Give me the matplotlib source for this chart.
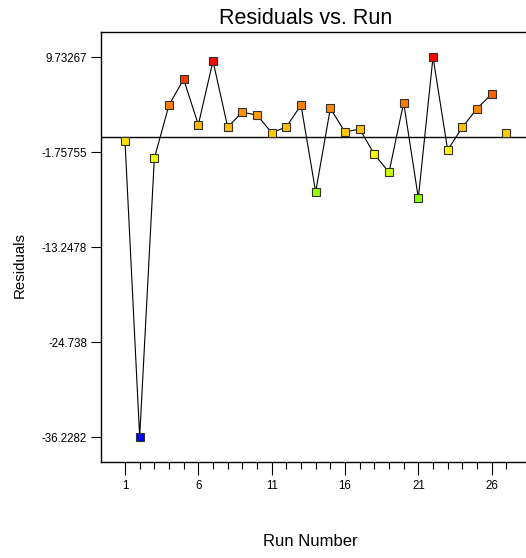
import numpy as np
import matplotlib
matplotlib.use("Agg")
import matplotlib.pyplot as plt
from matplotlib.colors import LinearSegmentedColormap, Normalize

plt.rcParams['font.family'] = ['Liberation Sans', 'DejaVu Sans']

runs = list(range(1, 28))
residuals = [-0.42, -36.2282, -2.52, 3.93, 7.04, 1.55, 9.25, 1.27, 3.05, 2.72,
             0.58, 1.27, 3.93, -6.59, 3.53, 0.67, 1.03, -2.04, -4.21, 4.21,
             -7.32, 9.73267, -1.51, 1.23, 3.49, 5.26, 0.54]
ytick_vals = [9.73267, -1.75755, -13.2478, -24.738, -36.2282]
ytick_labels = ["9.73267", "-1.75755", "-13.2478", "-24.738", "-36.2282"]
xtick_major = [1, 6, 11, 16, 21, 26]
connected_n = 26  # last run is drawn unconnected

cmap = LinearSegmentedColormap.from_list(
    "de", [(0, "#0000ff"), (0.25, "#00ffff"), (0.5, "#00ff00"),
           (0.75, "#ffff00"), (1.0, "#ff0000")])
norm = Normalize(min(residuals), max(residuals))

fig = plt.figure(figsize=(5.26, 5.58), dpi=100)
ax = fig.add_axes([101/526, 1-462/558, (526-101)/526, (462-32)/558])

ax.axhline(0, color="black", lw=1.0, zorder=1)
ax.plot(runs[:connected_n], residuals[:connected_n], color="black", lw=0.8, zorder=2)
for r, v in zip(runs, residuals):
    ax.plot([r], [v], marker="s", ms=6.2, mfc=cmap(norm(v)), mec="#303030",
            mew=0.8, ls="none", zorder=3)

ax.set_xlim(-0.636, 28.34)
ax.set_ylim(-39.25, 12.76)
ax.set_xticks(xtick_major)
ax.set_xticklabels([str(x) for x in xtick_major], fontsize=8.3)
ax.set_xticks(runs, minor=True)
ax.set_yticks(ytick_vals)
ax.set_yticklabels(ytick_labels, fontsize=8.3)
ax.tick_params(axis="x", which="major", length=9, width=0.8, direction="out", pad=4)
ax.tick_params(axis="x", which="minor", length=5, width=0.8, direction="out")
ax.tick_params(axis="y", which="major", length=7, width=0.8, direction="out", pad=3)
ax.spines["right"].set_visible(False)
for s in ["left", "top", "bottom"]:
    ax.spines[s].set_linewidth(1.0)

fig.text(306/526, 1-19/558, "Residuals vs. Run", ha="center", va="center", fontsize=15.5)
fig.text(20/526, 1-265/558, "Residuals", ha="center", va="center", rotation=90, fontsize=10.8)
fig.text(310/526, 1-542/558, "Run Number", ha="center", va="center", fontsize=12)

fig.savefig("out.png", dpi=100)
